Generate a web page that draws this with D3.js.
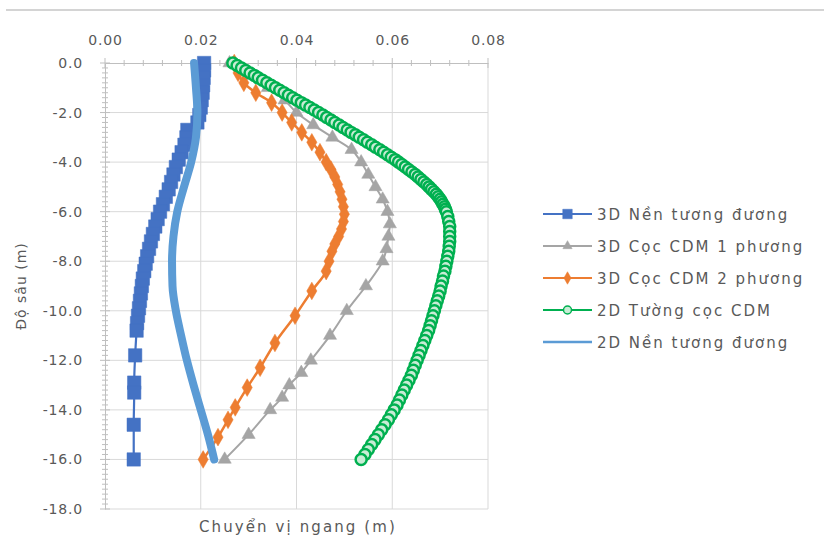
<!doctype html>
<html>

<head>
    <meta charset="utf-8">
    <title>Chuyen vi ngang</title>
    <style>
        body { margin: 0; background: #fff; }
        text { font-family: "DejaVu Sans", sans-serif; fill: #595959; }
    </style>
</head>

<body>
    <script src="https://d3js.org/d3.v7.min.js"></script>
    <script>
        // tick labels
        var xTicks = [0, 0.02, 0.04, 0.06, 0.08];
        var yTicks = [0, -2, -4, -6, -8, -10, -12, -14, -16, -18];

        // series names
        var seriesNames = ["3D Nền tương đương", "3D Cọc CDM 1 phương", "3D Cọc CDM 2 phương",
            "2D Tường cọc CDM", "2D Nền tương đương"];

        // 3D Nen tuong duong (squares)
        var nen3dDepth = [0, -0.3, -0.6, -0.9, -1.2, -1.5, -1.8, -2.1, -2.4, -2.7, -3.0, -3.3, -3.6, -3.9,
            -4.2, -4.5, -4.8, -5.1, -5.4, -5.7, -6.0, -6.3, -6.6, -6.9, -7.2, -7.5, -7.8, -8.1, -8.4, -8.7,
            -9.0, -9.3, -9.6, -9.9, -10.2, -10.5, -10.8, -11.8, -12.9, -13.3, -14.6, -16.0];
        var nen3dDisp = [0.0207, 0.0207, 0.0206, 0.0205, 0.0204, 0.0202, 0.0200, 0.0197, 0.0193, 0.0172,
            0.0170, 0.0166, 0.0160, 0.0154, 0.0148, 0.0143, 0.0138, 0.0133, 0.0127, 0.0121, 0.0115, 0.0110,
            0.0105, 0.0100, 0.0096, 0.0092, 0.0088, 0.0085, 0.0082, 0.0079, 0.0077, 0.0075, 0.0073, 0.0071,
            0.0069, 0.0067, 0.0066, 0.0063, 0.0061, 0.0061, 0.0060, 0.0060];

        // 3D Coc CDM 1 phuong (triangles)
        var coc1Depth = [0, -0.5, -1.0, -1.5, -2.0, -2.5, -3.0, -3.5, -4.0, -4.5, -5.0, -5.5, -6.0, -6.5,
            -7.0, -7.5, -8.0, -9.0, -10.0, -11.0, -12.0, -12.5, -13.0, -13.5, -14.0, -15.0, -16.0];
        var coc1Disp = [0.026, 0.030, 0.034, 0.0375, 0.040, 0.0435, 0.0475, 0.0515, 0.0535, 0.0550, 0.0565,
            0.0580, 0.0590, 0.0595, 0.0592, 0.0588, 0.0580, 0.0545, 0.0505, 0.0470, 0.0430, 0.0410, 0.0385,
            0.0370, 0.0345, 0.0300, 0.0250];

        // 3D Coc CDM 2 phuong (diamonds)
        var coc2Depth = [0, -0.4, -0.8, -1.2, -1.6, -2.0, -2.4, -2.8, -3.2, -3.6, -4.0, -4.3, -4.6, -4.9,
            -5.2, -5.5, -5.8, -6.1, -6.4, -6.7, -7.0, -7.3, -7.6, -8.0, -8.4, -9.2, -10.2, -11.3, -12.3,
            -13.1, -13.9, -14.4, -15.1, -16.0];
        var coc2Disp = [0.0270, 0.0278, 0.0290, 0.0315, 0.0348, 0.0370, 0.0390, 0.0411, 0.0432, 0.0449,
            0.0462, 0.0472, 0.0480, 0.0486, 0.0491, 0.0495, 0.0498, 0.0500, 0.0498, 0.0494, 0.0488, 0.0480,
            0.0474, 0.0468, 0.0462, 0.0432, 0.0397, 0.0355, 0.0324, 0.0297, 0.0272, 0.0257, 0.0236, 0.0205];

        // 2D Tuong coc CDM (circles)
        var tuong2dDepth = [0, -0.1, -0.2, -0.3, -0.4, -0.5, -0.6, -0.7, -0.8, -0.9, -1.0, -1.1, -1.2, -1.3,
            -1.4, -1.5, -1.6, -1.7, -1.8, -1.9, -2.0, -2.1, -2.2, -2.3, -2.4, -2.5, -2.6, -2.7, -2.8, -2.9,
            -3.0, -3.1, -3.2, -3.3, -3.4, -3.5, -3.6, -3.7, -3.8, -3.9, -4.0, -4.1, -4.2, -4.3, -4.4, -4.5,
            -4.6, -4.7, -4.8, -4.9, -5.0, -5.1, -5.2, -5.3, -5.4, -5.5, -5.6, -5.7, -5.8, -5.9,
            -6.0, -6.2, -6.4, -6.6, -6.8, -7.0, -7.2, -7.4, -7.6, -7.8, -8.0, -8.2, -8.4, -8.6, -8.8, -9.0,
            -9.2, -9.4, -9.6, -9.8, -10.0, -10.2, -10.4, -10.6, -10.8, -11.0, -11.2, -11.4, -11.6, -11.8,
            -12.0, -12.2, -12.4, -12.6, -12.8, -13.0, -13.2, -13.4, -13.6, -13.8, -14.0, -14.2, -14.4, -14.6,
            -14.8, -15.0, -15.2, -15.4, -15.6, -15.8, -16.0];
        var tuong2dDisp = [0.0267, 0.0276, 0.0285, 0.0294, 0.0303, 0.0312, 0.0320, 0.0329, 0.0338, 0.0347,
            0.0356, 0.0365, 0.0374, 0.0383, 0.0392, 0.0401, 0.0410, 0.0419, 0.0428, 0.0437, 0.0446, 0.0455,
            0.0463, 0.0472, 0.0480, 0.0489, 0.0497, 0.0506, 0.0514, 0.0523, 0.0531, 0.0540, 0.0548, 0.0557,
            0.0565, 0.0574, 0.0582, 0.0590, 0.0598, 0.0606, 0.0613, 0.0620, 0.0627, 0.0634, 0.0641, 0.0648,
            0.0654, 0.0660, 0.0666, 0.0672, 0.0677, 0.0682, 0.0687, 0.0692, 0.0696, 0.0700, 0.0703, 0.0706,
            0.0709, 0.0711,
            0.0713, 0.0716, 0.0718, 0.0720,
            0.0720, 0.0720, 0.0720, 0.0719, 0.0718, 0.0716, 0.0714, 0.0712, 0.0710, 0.0707, 0.0705, 0.0702,
            0.0700, 0.0697, 0.0694, 0.0691, 0.0688, 0.0685, 0.0682, 0.0679, 0.0676, 0.0672, 0.0668, 0.0664,
            0.0660, 0.0656, 0.0652, 0.0648, 0.0644, 0.0640, 0.0635, 0.0630, 0.0625, 0.0620, 0.0615, 0.0610,
            0.0604, 0.0598, 0.0592, 0.0585, 0.0578, 0.0571, 0.0564, 0.0557, 0.0550, 0.0543, 0.0535];

        // 2D Nen tuong duong (line only)
        var nen2dDepth = [0, -1, -2, -3, -4, -5, -6, -7, -8, -9, -10, -11, -12, -13, -14, -15, -16];
        var nen2dDisp = [0.0186, 0.0190, 0.0193, 0.0190, 0.0180, 0.0165, 0.0151, 0.0143, 0.0140, 0.0141,
            0.0148, 0.0159, 0.0171, 0.0185, 0.0200, 0.0215, 0.0228];

        //Width and height
        var w = 824;
        var h = 539;

        var svg = d3.select("body")
            .append("svg")
            .attr("width", w)
            .attr("height", h);

        svg.append("rect").attr("width", w).attr("height", h).attr("fill", "#fff");

        // thin separator line at the top of the picture
        svg.append("line")
            .attr("x1", 6).attr("x2", w)
            .attr("y1", 10).attr("y2", 10)
            .attr("stroke", "#d4d4d4").attr("stroke-width", 2);

        //Scales
        var x = d3.scaleLinear().domain([0, 0.08]).range([105, 488]);
        var y = d3.scaleLinear().domain([0, -18]).range([63, 509]);

        // gridlines
        var grid = svg.append('g');
        grid.selectAll(".gx")
            .data(xTicks.slice(1))
            .enter().append("line")
            .attr("x1", d => x(d)).attr("x2", d => x(d))
            .attr("y1", y(0)).attr("y2", y(-18))
            .attr("stroke", "#d9d9d9");
        grid.selectAll(".gy")
            .data(yTicks.slice(1))
            .enter().append("line")
            .attr("x1", x(0)).attr("x2", x(0.08))
            .attr("y1", d => y(d)).attr("y2", d => y(d))
            .attr("stroke", "#d9d9d9");

        // plain hyphen instead of unicode minus
        function fmt(p) {
            var f = d3.format(p);
            return function (d) { return f(d).replace("\u2212", "-"); };
        }

        // axes (labels)
        var xAxis = svg.append("g")
            .attr("transform", "translate(0," + y(0) + ")")
            .call(d3.axisTop(x).tickValues(xTicks).tickFormat(fmt(".2f")).tickSize(0).tickPadding(18));
        var yAxis = svg.append("g")
            .attr("transform", "translate(" + x(0) + ",0)")
            .call(d3.axisLeft(y).tickValues(yTicks).tickFormat(fmt(".1f")).tickSize(0).tickPadding(22));

        [xAxis, yAxis].forEach(function (a) {
            a.select(".domain").attr("stroke", "#bfbfbf");
            a.selectAll("text")
                .style("font-family", "DejaVu Sans")
                .style("font-size", "14px")
                .style("letter-spacing", "0.8px")
                .attr("fill", "#6b6b6b");
        });

        // major and minor ticks, crossing the axis line
        var ticks = svg.append('g').attr("stroke", "#bfbfbf");
        ticks.selectAll(".mx")
            .data(d3.range(0, 0.0801, 0.004))
            .enter().append("line")
            .attr("x1", d => x(d)).attr("x2", d => x(d))
            .attr("y1", (d, i) => y(0) - (i % 5 == 0 ? 5 : 3))
            .attr("y2", (d, i) => y(0) + (i % 5 == 0 ? 5 : 3));
        ticks.selectAll(".my")
            .data(d3.range(0, -18.01, -0.2))
            .enter().append("line")
            .attr("y1", d => y(d)).attr("y2", d => y(d))
            .attr("x1", (d, i) => x(0) - (i % 10 == 0 ? 5 : 3))
            .attr("x2", (d, i) => x(0) + (i % 10 == 0 ? 5 : 3));

        // axis titles
        svg.append("text")
            .attr("transform", "translate(26,286) rotate(-90)")
            .attr("text-anchor", "middle")
            .style("font-size", "14px")
            .style("letter-spacing", "1px")
            .text("Độ sâu (m)");
        svg.append("text")
            .attr("x", 298).attr("y", 532)
            .attr("text-anchor", "middle")
            .style("font-size", "15px")
            .style("letter-spacing", "2.1px")
            .text("Chuyển vị ngang (m)");

        //Series
        function zip(depth, disp) {
            return depth.map(function (d, i) { return { depth: d, disp: disp[i] }; });
        }
        var series = [
            { name: seriesNames[0], data: zip(nen3dDepth, nen3dDisp), color: "#4472c4", width: 2.2, symbol: d3.symbolSquare, size: 180, fill: "#4472c4" },
            { name: seriesNames[1], data: zip(coc1Depth, coc1Disp), color: "#a5a5a5", width: 2, symbol: d3.symbolTriangle, size: 75, fill: "#a5a5a5" },
            { name: seriesNames[2], data: zip(coc2Depth, coc2Disp), color: "#ed7d31", width: 2.5, symbol: d3.symbolDiamond, size: 90, fill: "#ed7d31" },
            { name: seriesNames[3], data: zip(tuong2dDepth, tuong2dDisp), color: "#00b050", width: 2.5, symbol: d3.symbolCircle, size: 95, fill: "#c8ecd5" },
            { name: seriesNames[4], data: zip(nen2dDepth, nen2dDisp), color: "#5b9bd5", width: 8, symbol: null }
        ];

        var line = d3.line()
            .x(d => x(d.disp))
            .y(d => y(d.depth))
            .curve(d3.curveMonotoneY);

        var layer = svg.append('g');
        series.forEach(function (s) {
            var g = layer.append('g');
            g.append("path")
                .attr("d", line(s.data))
                .attr("fill", "none")
                .attr("stroke", s.color)
                .attr("stroke-width", s.width)
                .attr("stroke-linecap", "round")
                .attr("stroke-linejoin", "round");
            if (s.symbol) {
                g.selectAll("path.mk")
                    .data(s.data)
                    .enter().append("path")
                    .attr("class", "mk")
                    .attr("d", d3.symbol().type(s.symbol).size(s.size))
                    .attr("transform", d => "translate(" + x(d.disp) + "," + y(d.depth) + ")")
                    .attr("fill", s.fill)
                    .attr("stroke", s.color)
                    .attr("stroke-width", s.symbol == d3.symbolCircle ? 2.5 : 0.5);
            }
        });

        //Legend
        var legend = svg.append('g').attr("transform", "translate(543,214)");
        series.forEach(function (s, i) {
            var row = legend.append('g').attr("transform", "translate(0," + (i * 32) + ")");
            row.append("line")
                .attr("x1", 0).attr("x2", 49)
                .attr("stroke", s.color)
                .attr("stroke-width", s.symbol ? 2 : 2.5);
            if (s.symbol) {
                row.append("path")
                    .attr("d", d3.symbol().type(s.symbol).size(s.symbol == d3.symbolCircle ? 50 : s.size * 0.5))
                    .attr("transform", "translate(24.5,0)")
                    .attr("fill", s.fill)
                    .attr("stroke", s.color)
                    .attr("stroke-width", s.symbol == d3.symbolCircle ? 1.5 : 0.5);
            }
            row.append("text")
                .attr("x", 54).attr("y", 5.5)
                .style("font-size", "15px")
                .style("letter-spacing", "2px")
                .text(s.name);
        });
    </script>
</body>

</html>
